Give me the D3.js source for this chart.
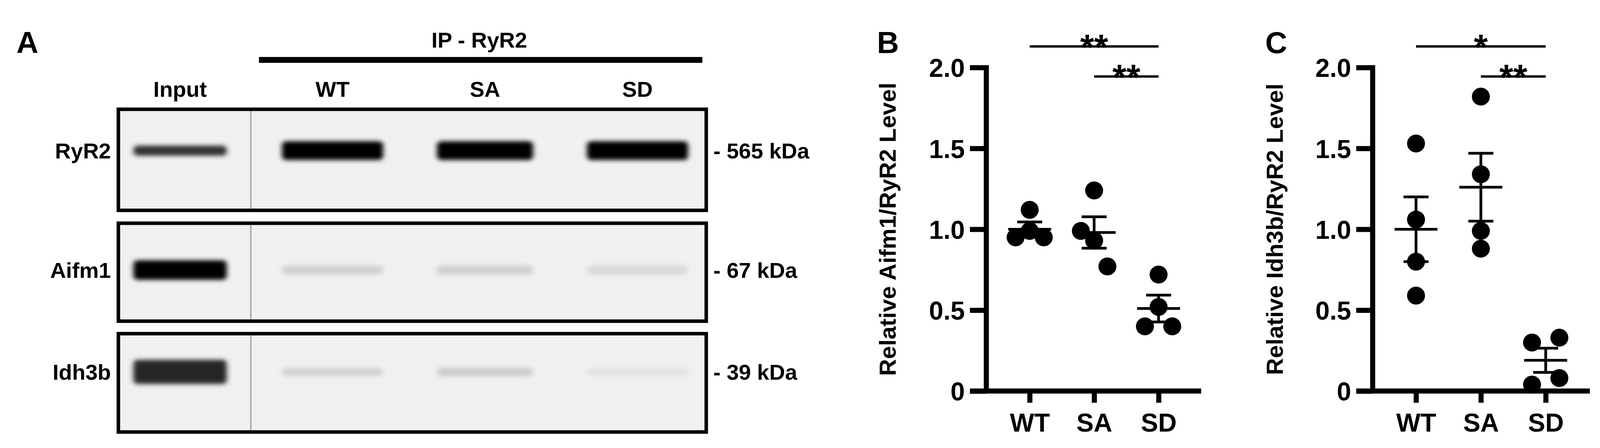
<!DOCTYPE html>
<html><head><meta charset="utf-8">
<script src="https://cdn.jsdelivr.net/npm/d3@7"></script>
<style>body{margin:0;background:#fff}svg{display:block}text{font-family:"Liberation Sans",Arial,sans-serif;font-weight:bold;fill:#000}</style>
</head><body>
<script>
const groups = ["WT","SA","SD"];
const tickValues = [0,0.5,1.0,1.5,2.0];
const aifm1Values = [[1.12,0.95,0.99,0.95],[1.24,0.99,0.93,0.77],[0.72,0.52,0.40,0.40]];
const aifm1Offsets = [[0,-36,0,36],[0,-34,0,34],[0,0,-35,35]];
const aifm1Mean = [1.00,0.98,0.51];
const aifm1Sem = [0.045,0.097,0.083];
const idh3bValues = [[1.53,1.06,0.80,0.59],[1.82,1.34,0.99,0.88],[0.30,0.33,0.04,0.08]];
const idh3bOffsets = [[0,0,0,0],[0,0,0,0],[-35,35,-35,35]];
const idh3bMean = [1.00,1.26,0.19];
const idh3bSem = [0.20,0.21,0.075];
const blotLanes = ["Input","WT","SA","SD"];
const blotRows = ["RyR2","Aifm1","Idh3b"];
const blotKDa = ["- 565 kDa","- 67 kDa","- 39 kDa"];
const bandIntensity = [[0.8,1,1,1],[1,0.12,0.12,0.08],[0.85,0.12,0.14,0.04]];

const svg = d3.select("body").append("svg").attr("width",4294).attr("height",1148);
const defs = svg.append("defs");
defs.append("filter").attr("id","blur").attr("x","-20%").attr("y","-100%").attr("width","140%").attr("height","300%")
  .append("feGaussianBlur").attr("stdDeviation","7 6");

// Panel A
svg.append("text").attr("x",42).attr("y",136).attr("font-size",78).text("A");
svg.append("rect").attr("x",663).attr("y",146).attr("width",1135).attr("height",15).attr("fill","#000");
svg.append("text").attr("x",1227).attr("y",122).attr("font-size",56).attr("text-anchor","middle").text("IP - RyR2");
const laneX = d3.scalePoint().domain(blotLanes).range([461,1632]);
const laneW = [255,275,262,275];
blotLanes.forEach((l,i)=>svg.append("text").attr("x",laneX(l)).attr("y",248).attr("font-size",56).attr("text-anchor","middle").text(l));
const boxes = [[280,539],[572,823],[855,1107]];
const bandY = [386,692,953];
const bandH = [[26,48,48,48],[50,22,24,24],[62,20,22,20]];
blotRows.forEach((r,j)=>{
  const [y0,y1]=boxes[j];
  svg.append("rect").attr("x",303).attr("y",y0).attr("width",1505).attr("height",y1-y0).attr("fill","#f0f0f0").attr("stroke","#000").attr("stroke-width",9);
  svg.append("line").attr("x1",642).attr("x2",642).attr("y1",y0+5).attr("y2",y1-5).attr("stroke","#999").attr("stroke-width",3);
  blotLanes.forEach((l,i)=>{
    const v=bandIntensity[j][i];
    svg.append("rect").attr("x",laneX(l)-laneW[i]/2+8).attr("y",bandY[j]-bandH[j][i]/2).attr("width",laneW[i]-16).attr("height",bandH[j][i])
      .attr("rx",10).attr("fill",d3.interpolateRgb("#ececec","#050505")(v)).attr("filter","url(#blur)");
  });
  svg.append("text").attr("x",284).attr("y",bandY[j]+20).attr("font-size",56).attr("text-anchor","end").text(r);
  svg.append("text").attr("x",1826).attr("y",bandY[j]+20).attr("font-size",56).text(blotKDa[j]);
});

// Scatter panels
function panel(opt){
  const g = svg.append("g");
  const y = d3.scaleLinear().domain([0,2]).range([1002,173]);
  const x = d3.scalePoint().domain(groups).range([opt.x0,opt.x2]);
  const ya = g.append("g").attr("transform",`translate(${opt.ax},0)`)
    .call(d3.axisLeft(y).tickValues(tickValues).tickSize(42).tickPadding(13).tickFormat(d=>d===0?"0":d.toFixed(1)));
  ya.select(".domain").attr("d",`M0,${y(2)-6}V${y(0)}`);
  const xa = g.append("g").attr("transform",`translate(0,${y(0)})`)
    .call(d3.axisBottom(x).tickSize(30).tickPadding(26));
  xa.select(".domain").attr("d",`M${opt.ax-42},0H${opt.xend}`);
  [ya,xa].forEach(a=>{a.selectAll("path,line").attr("stroke","#000").attr("stroke-width",13);
    a.selectAll("text").attr("font-size",66).attr("font-family","Liberation Sans, Arial").attr("font-weight","bold").attr("fill","#000");});
  ya.selectAll("text").attr("dy","0.36em");
  xa.selectAll("text").attr("dy","0.72em");
  g.append("text").attr("transform",`translate(${opt.lx},${y(1)}) rotate(-90)`).attr("text-anchor","middle").attr("dy","0.35em").attr("font-size",60).text(opt.label);
  g.append("text").attr("x",opt.letterX).attr("y",136).attr("font-size",78).text(opt.letter);
  groups.forEach((gname,i)=>{
    opt.vals[i].forEach((v,k)=>g.append("circle").attr("cx",x(gname)+opt.offs[i][k]).attr("cy",y(v)).attr("r",23).attr("fill","#000"));
    const cx=x(gname), m=opt.mean[i], s=opt.sem[i];
    g.append("line").attr("x1",cx-55).attr("x2",cx+55).attr("y1",y(m)).attr("y2",y(m)).attr("stroke","#000").attr("stroke-width",7);
    g.append("line").attr("x1",cx).attr("x2",cx).attr("y1",y(m-s)).attr("y2",y(m+s)).attr("stroke","#000").attr("stroke-width",7);
    [m-s,m+s].forEach(e=>g.append("line").attr("x1",cx-32).attr("x2",cx+32).attr("y1",y(e)).attr("y2",y(e)).attr("stroke","#000").attr("stroke-width",7));
  });
  opt.sig.forEach(([a,b,yy,t])=>{
    g.append("line").attr("x1",x(a)).attr("x2",x(b)).attr("y1",yy).attr("y2",yy).attr("stroke","#000").attr("stroke-width",6);
    g.append("text").attr("x",(x(a)+x(b))/2).attr("y",yy+34).attr("text-anchor","middle").attr("font-size",92).text(t);
  });
}
panel({ax:2525,x0:2636,x2:2966,xend:3075,lx:2272,letterX:2245,letter:"B",label:"Relative Aifm1/RyR2 Level",
  vals:aifm1Values,offs:aifm1Offsets,mean:aifm1Mean,sem:aifm1Sem,sig:[["WT","SD",119,"**"],["SA","SD",196,"**"]]});
panel({ax:3514,x0:3625,x2:3957,xend:4070,lx:3263,letterX:3239,letter:"C",label:"Relative Idh3b/RyR2 Level",
  vals:idh3bValues,offs:idh3bOffsets,mean:idh3bMean,sem:idh3bSem,sig:[["WT","SD",119,"*"],["SA","SD",196,"**"]]});
</script>
</body></html>
